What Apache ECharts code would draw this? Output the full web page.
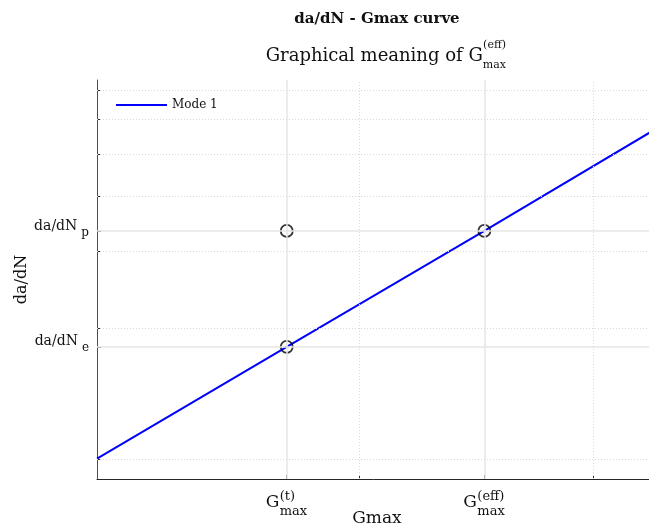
<!DOCTYPE html>
<html>
<head>
<meta charset="utf-8">
<script src="https://cdn.jsdelivr.net/npm/echarts@6/dist/echarts.min.js"></script>
<style>
  html, body { margin: 0; padding: 0; background: #fff; }
  #chart { width: 649px; height: 529px; }
</style>
</head>
<body>
<div id="chart"></div>
<script>
// Gmax (x) and da/dN (y) are plotted on log-log axes: values are kept raw here
// and mapped to log10 before they are handed to the value axes.
const gmaxRange = [1.269, 3.349];
const rateRange = [0.903, 7.375];

// Mode 1 curve (straight in log-log)
const curveGmax = [1.269, 1.763, 2.483, 3.349];
const curveRate = [1.005, 1.811, 3.333, 5.72];

// Marked points: (G_t, da/dN_e), (G_t, da/dN_p), (G_eff, da/dN_p)
const pointGmax = [1.763, 1.763, 2.483];
const pointRate = [1.811, 3.333, 3.333];

// Labelled ticks
const gmaxTicks = [1.763, 2.483];
const gmaxTickSup = ['(t)', '(eff)'];
const rateTicks = [1.811, 3.333];
const rateTickSub = ['e', 'p'];

// Unlabelled (minor) ticks with dotted grid lines
const gmaxMinor = [2, 3];
const rateMinor = [1, 2, 3, 4, 5, 6, 7];

const lg = Math.log10;
const FONT = 'DejaVu Serif';
const INK = '#111';

function nearestIndex(arr, v) {
  let best = 0, d = Infinity;
  arr.forEach((a, i) => { const e = Math.abs(lg(a) - v); if (e < d) { d = e; best = i; } });
  return best;
}

const majorStyle = { color: '#e6e6e6', width: 1.5, type: 'solid' };
const minorStyle = { color: '#d9d9d9', width: 1, type: [1, 2] };
const gridLines = [];
gmaxTicks.forEach(v => gridLines.push({ xAxis: lg(v), lineStyle: majorStyle }));
rateTicks.forEach(v => gridLines.push({ yAxis: lg(v), lineStyle: majorStyle }));
gmaxMinor.forEach(v => gridLines.push({ xAxis: lg(v), lineStyle: minorStyle }));
rateMinor.forEach(v => gridLines.push({ yAxis: lg(v), lineStyle: minorStyle }));

const chart = echarts.init(document.getElementById('chart'), null, { renderer: 'canvas' });

chart.setOption({
  animation: false,
  backgroundColor: '#fff',
  title: [
    {
      text: 'da/dN - Gmax curve',
      left: 377, top: 10, textAlign: 'center', padding: 0,
      textStyle: { fontFamily: FONT, fontSize: 15, fontWeight: 'bold', color: INK, lineHeight: 18 }
    },
    {
      text: '{sup|(eff)}\n{m|Graphical meaning of G}{sub|max}',
      left: 506, top: 41, textAlign: 'right', padding: 0,
      textStyle: {
        fontFamily: FONT, fontWeight: 'normal', fontSize: 18, color: INK,
        rich: {
          sup: { fontFamily: FONT, fontWeight: 'normal', fontSize: 11, lineHeight: 8, color: INK },
          m: { fontFamily: FONT, fontWeight: 'normal', fontSize: 18, lineHeight: 14, color: INK },
          sub: { fontFamily: FONT, fontWeight: 'normal', fontSize: 11, lineHeight: 14, padding: [19, 0, 0, 0], color: INK }
        }
      }
    }
  ],
  legend: {
    data: [{ name: 'Mode 1', icon: 'rect' }],
    left: 116, top: 99, padding: 0,
    itemWidth: 51, itemHeight: 2, itemGap: 4,
    textStyle: { fontFamily: FONT, fontSize: 12, color: INK, padding: [0, 0, 0, 0] }
  },
  grid: { left: 97, right: -8, top: 80, bottom: 50, containLabel: false, outerBoundsMode: 'none' },
  xAxis: {
    type: 'value',
    min: lg(gmaxRange[0]), max: lg(gmaxRange[1]),
    name: 'Gmax', nameLocation: 'middle', nameGap: 31, nameMoveOverlap: false,
    nameTextStyle: { fontFamily: FONT, fontSize: 17, color: INK },
    axisLine: { show: true, onZero: false, lineStyle: { color: '#262626', width: 1 } },
    axisTick: { show: true, inside: true, length: 4, customValues: gmaxTicks.concat(gmaxMinor).map(lg), lineStyle: { color: '#262626', width: 1 } },
    axisLabel: {
      show: true, margin: 15,
      customValues: gmaxTicks.map(lg),
      formatter: v => {
        const i = nearestIndex(gmaxTicks, v);
        return '{gs|\u00a0}{sup|' + gmaxTickSup[i] + '}\n{g|G}{sub|max}';
      },
      rich: {
        gs: { width: 14, fontSize: 6, lineHeight: 6, align: 'left' },
        sup: { width: 28, fontFamily: FONT, fontSize: 13, lineHeight: 6, align: 'left', color: INK },
        g: { width: 14, fontFamily: FONT, fontSize: 17, lineHeight: 5, align: 'left', color: INK },
        sub: { width: 28, fontFamily: FONT, fontSize: 13, lineHeight: 5, padding: [18, 0, 0, 0], align: 'left', color: INK }
      }
    },
    splitLine: { show: false },
    minorTick: { show: false },
    minorSplitLine: { show: false }
  },
  yAxis: {
    type: 'value',
    min: lg(rateRange[0]), max: lg(rateRange[1]),
    name: 'da/dN', nameLocation: 'middle', nameGap: 67, nameMoveOverlap: false,
    nameTextStyle: { fontFamily: FONT, fontSize: 16, color: INK },
    axisLine: { show: true, onZero: false, lineStyle: { color: '#4d4d4d', width: 1 } },
    axisTick: { show: true, inside: true, length: 4, customValues: rateTicks.concat(rateMinor).map(lg), lineStyle: { color: '#262626', width: 1 } },
    axisLabel: {
      show: true, margin: 8,
      customValues: rateTicks.map(lg),
      formatter: v => {
        const i = nearestIndex(rateTicks, v);
        return '{t|da/dN}{s|' + rateTickSub[i] + '}';
      },
      rich: {
        t: { fontFamily: FONT, fontSize: 14, padding: [0, 0, 10, 0], color: INK },
        s: { fontFamily: FONT, fontSize: 12, padding: [3, 0, 0, 4], color: INK }
      }
    },
    splitLine: { show: false },
    minorTick: { show: false },
    minorSplitLine: { show: false }
  },
  series: [
    {
      // grid lines
      type: 'line', name: 'grid', data: [], z: 1, silent: true,
      markLine: {
        silent: true, symbol: ['none', 'none'], label: { show: false },
        precision: 10,
        emphasis: { disabled: true },
        data: gridLines
      }
    },
    {
      name: 'Mode 1', type: 'line', z: 3,
      data: curveGmax.map((g, i) => [lg(g), lg(curveRate[i])]),
      symbol: 'none', showSymbol: false,
      lineStyle: { color: '#0000ff', width: 2 },
      itemStyle: { color: '#0000ff' }
    },
    {
      name: 'points', type: 'scatter', z: 4,
      data: pointGmax.map((g, i) => [lg(g), lg(pointRate[i])]),
      symbol: 'circle', symbolSize: 12,
      itemStyle: { color: 'rgba(0,0,0,0)', borderColor: '#000', borderWidth: 1.8 }
    }
  ]
});
</script>
</body>
</html>
